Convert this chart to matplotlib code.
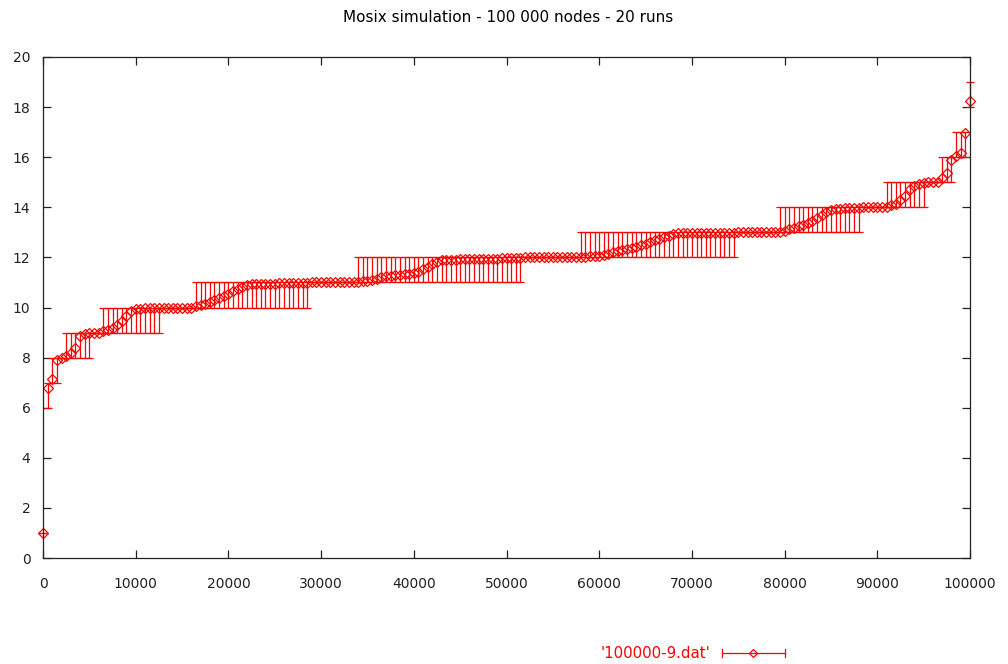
import numpy as np
import matplotlib
matplotlib.use("Agg")
import matplotlib.pyplot as plt
from matplotlib.lines import Line2D
from matplotlib.ticker import FormatStrFormatter

# node rank (sorted), sampled every 500 nodes
nodes = np.arange(0, 100001, 500)

# mean value over the 20 runs
hops = np.array(
    [1.0, 6.8, 7.15, 7.9, 8.0]
    + [8.08, 8.2, 8.4, 8.85, 8.95, 9.0]
    + [9.0, 9.0]
    + [9.05, 9.1, 9.2, 9.3, 9.45, 9.65, 9.85, 9.93, 9.96, 9.97, 9.98, 9.98, 9.99]
    + [10.0] * 7
    + [10.05, 10.1, 10.15, 10.22, 10.3, 10.37, 10.45, 10.55, 10.65, 10.73, 10.8, 10.88, 10.92,
       10.93, 10.94, 10.94, 10.95, 10.95, 10.96, 10.96, 10.97, 10.97, 10.98, 10.98, 10.99]
    + [11.0] * 10
    + [11.03, 11.05, 11.07, 11.1, 11.15, 11.2, 11.24, 11.27, 11.3, 11.31, 11.32, 11.33,
       11.36, 11.42, 11.52, 11.63, 11.75, 11.83, 11.88, 11.9,
       11.91, 11.91, 11.92, 11.92, 11.93, 11.93, 11.93, 11.94, 11.94, 11.95, 11.95, 11.96,
       11.96, 11.97, 11.98, 11.98]
    + [12.0] * 12
    + [12.02, 12.03, 12.04, 12.05, 12.06, 12.08, 12.12, 12.2, 12.26, 12.29, 12.32, 12.37,
       12.43, 12.48, 12.53, 12.6, 12.68, 12.74, 12.81, 12.87, 12.93, 12.96,
       12.96, 12.97, 12.97, 12.97, 12.98, 12.98, 12.98, 12.98, 12.99, 12.99, 12.99, 12.99]
    + [13.0] * 9
    + [13.03, 13.06, 13.12, 13.18, 13.24, 13.3, 13.38, 13.47, 13.57, 13.7, 13.82, 13.89,
       13.93, 13.95, 13.96, 13.97, 13.98, 13.98]
    + [14.0] * 5
    + [14.03, 14.08, 14.15, 14.28, 14.45, 14.75, 14.87, 14.92, 14.96]
    + [15.0] * 3
    + [15.15, 15.35, 15.9]
    + [16.05, 16.15, 16.95]
    + [18.25]
)

# min / max over the runs
hops_min = np.array(
    [1, 6, 7, 7, 8] + [8] * 6 + [9] * 2 + [9] * 13 + [10] * 7 + [10] * 25
    + [11] * 10 + [11] * 36 + [12] * 12 + [12] * 34 + [13] * 9 + [13] * 18
    + [14] * 5 + [14] * 9 + [15] * 3 + [15] * 3 + [16] * 3 + [18], dtype=float)
hops_max = np.array(
    [1, 7, 8, 8, 8] + [9] * 6 + [9] * 2 + [10] * 13 + [10] * 7 + [11] * 25
    + [11] * 10 + [12] * 36 + [12] * 12 + [13] * 34 + [13] * 9 + [14] * 18
    + [14] * 5 + [15] * 9 + [15] * 3 + [16] * 3 + [17] * 3 + [19], dtype=float)

title = "Mosix simulation - 100 000 nodes - 20 runs"
series_label = "'100000-9.dat'"

plt.rcParams.update({
    "font.family": ["DejaVu Sans"],
    "font.size": 9,
})

W, H = 1008, 664
fig = plt.figure(figsize=(W / 100, H / 100), dpi=100)
ax = fig.add_axes([43 / W, 106 / H, 927 / W, 501 / H])

bars = ax.errorbar(nodes, hops, yerr=[hops - hops_min, hops_max - hops],
                   fmt="D", ms=5.0, mfc="none", mec="red", mew=0.9,
                   ecolor="red", elinewidth=0.9, capsize=2.9, capthick=0.9)
bars[0].set_clip_on(False)
for art in bars[1]:
    art.set_clip_on(False)
for art in bars[2]:
    art.set_clip_on(False)

ax.set_xlim(0, 100000)
ax.set_ylim(0, 20)
ax.set_xticks(np.arange(0, 100001, 10000))
ax.set_yticks(np.arange(0, 21, 2))
ax.xaxis.set_major_formatter(FormatStrFormatter("%d"))
ax.tick_params(direction="in", top=True, right=True, length=6, width=0.9,
               labelsize=10, colors="#222222")
ax.tick_params(axis="x", pad=14)
ax.tick_params(axis="y", pad=9)
for sp in ax.spines.values():
    sp.set_linewidth(0.9)
    sp.set_color("#222222")

fig.text(508 / W, 1 - 18 / H, title, ha="center", va="center", fontsize=11)

# key, gnuplot style, below the plot
ky = 1 - 653 / H
fig.text(710 / W, ky, series_label, ha="right", va="center", color="red", fontsize=10.8)
fig.add_artist(Line2D([722 / W, 785 / W], [ky, ky], transform=fig.transFigure,
                      color="red", lw=0.9))
for xe in (722, 785):
    fig.add_artist(Line2D([xe / W, xe / W], [ky - 4 / H, ky + 4 / H],
                          transform=fig.transFigure, color="red", lw=0.9))
fig.add_artist(Line2D([753 / W], [ky], transform=fig.transFigure, marker="D",
                      ms=4.3, mfc="none", mec="red", mew=0.9))

fig.savefig("out.png", dpi=100)
